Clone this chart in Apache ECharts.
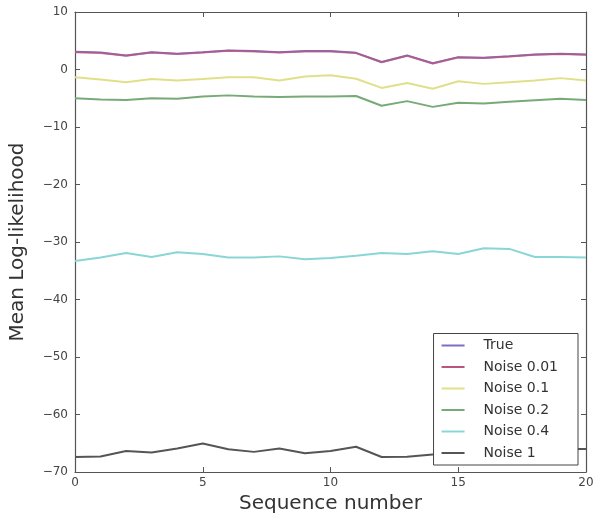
<!DOCTYPE html>
<html>
<head>
<meta charset="utf-8">
<script src="https://cdn.jsdelivr.net/npm/echarts@6/dist/echarts.min.js"></script>
<style>
  html, body { margin: 0; padding: 0; background: #fff; }
  #chart { width: 600px; height: 519px; }
</style>
</head>
<body>
<div id="chart"></div>
<script>
// sequence index 0..20
const seq = [0, 1, 2, 3, 4, 5, 6, 7, 8, 9, 10, 11, 12, 13, 14, 15, 16, 17, 18, 19, 20]
const seriesNames = ['True', 'Noise 0.01', 'Noise 0.1', 'Noise 0.2', 'Noise 0.4', 'Noise 1']
const colors = ['#7a70c4', '#b9557e', '#e0e08a', '#78aa78', '#8ad6d6', '#555555']

const trueLL = [3.1, 2.95, 2.45, 3.0, 2.75, 3.0, 3.3, 3.2, 3.0, 3.2, 3.2, 2.9, 1.3, 2.45, 1.1, 2.15, 2.05, 2.3, 2.6, 2.75, 2.6]
const noise001 = [3.0, 2.85, 2.4, 2.95, 2.7, 2.95, 3.25, 3.15, 2.95, 3.15, 3.15, 2.85, 1.25, 2.4, 1.05, 2.1, 2.0, 2.25, 2.55, 2.7, 2.55]
const noise01 = [-1.35, -1.75, -2.2, -1.65, -1.9, -1.65, -1.35, -1.35, -1.9, -1.2, -1.0, -1.6, -3.2, -2.35, -3.35, -2.05, -2.5, -2.2, -1.9, -1.5, -1.9]
const noise02 = [-5.0, -5.2, -5.3, -5.0, -5.1, -4.7, -4.5, -4.7, -4.8, -4.7, -4.7, -4.6, -6.3, -5.5, -6.5, -5.8, -5.9, -5.6, -5.35, -5.1, -5.3]
const noise04 = [-33.3, -32.7, -31.9, -32.6, -31.8, -32.1, -32.7, -32.7, -32.5, -33.0, -32.8, -32.4, -31.9, -32.1, -31.6, -32.1, -31.1, -31.2, -32.6, -32.6, -32.7]
const noise1 = [-67.4, -67.3, -66.35, -66.6, -65.9, -65.05, -66.05, -66.5, -65.9, -66.75, -66.35, -65.6, -67.4, -67.35, -66.95, -66.6, -66.4, -66.2, -66.1, -66.0, -66.0]

const allData = [trueLL, noise001, noise01, noise02, noise04, noise1]

const minus = v => String(v).replace('-', '\u2212')
const labelFont = { color: '#444', fontSize: 12, fontFamily: 'DejaVu Sans', formatter: minus }
const frame = { show: true, onZero: false, lineStyle: { color: '#555', width: 1.2 } }
const ticksIn = { show: true, inside: true, length: 5, lineStyle: { color: '#555' } }
const nameFont = { color: '#333', fontSize: 20, fontFamily: 'DejaVu Sans' }

const chart = echarts.init(document.getElementById('chart'))
chart.setOption({
  animation: false,
  grid: { left: 70, right: 14, top: 12, bottom: 47 },
  legend: {
    data: seriesNames,
    orient: 'vertical',
    right: 22,
    bottom: 54,
    z: 10,
    backgroundColor: '#fff',
    borderColor: '#444',
    borderWidth: 1,
    padding: [5, 20, 5, 8],
    itemGap: 7.5,
    itemWidth: 23,
    itemHeight: 2,
    icon: 'rect',
    textStyle: { color: '#333', fontSize: 14, fontFamily: 'DejaVu Sans', padding: [0, 0, 0, 14] }
  },
  xAxis: [{
    type: 'value', min: 0, max: 20, interval: 5,
    name: 'Sequence number', nameLocation: 'middle', nameGap: 20,
    nameTextStyle: nameFont,
    axisLine: frame, axisTick: ticksIn,
    axisLabel: Object.assign({ margin: 5 }, labelFont),
    splitLine: { show: false }
  }, {
    type: 'value', min: 0, max: 20, interval: 5, position: 'top',
    axisLine: frame, axisTick: ticksIn, axisLabel: { show: false }, splitLine: { show: false }
  }],
  yAxis: [{
    type: 'value', min: -70, max: 10, interval: 10,
    name: 'Mean Log-likelihood', nameLocation: 'middle', nameGap: 47,
    nameTextStyle: nameFont,
    axisLine: frame, axisTick: ticksIn,
    axisLabel: Object.assign({ margin: 7 }, labelFont),
    splitLine: { show: false }
  }, {
    type: 'value', min: -70, max: 10, interval: 10, position: 'right',
    axisLine: frame, axisTick: ticksIn, axisLabel: { show: false }, splitLine: { show: false }
  }],
  series: seriesNames.map((name, i) => ({
    name: name,
    type: 'line',
    data: seq.map((x, j) => [x, allData[i][j]]),
    showSymbol: false,
    color: colors[i],
    lineStyle: { width: 2, color: colors[i], opacity: i === 1 ? 0.75 : 1 }
  }))
})
</script>
</body>
</html>
